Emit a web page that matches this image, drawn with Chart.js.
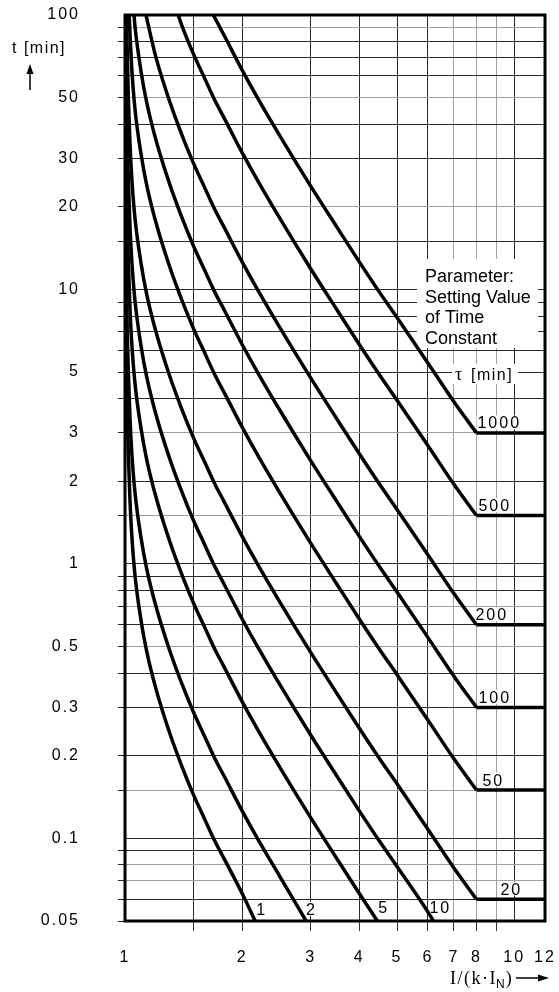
<!DOCTYPE html>
<html>
<head>
<meta charset="utf-8">
<script src="https://cdn.jsdelivr.net/npm/chart.js@4.4.1/dist/chart.umd.min.js"></script>
<style>
  html, body { margin: 0; padding: 0; background: #fff; }
  canvas { display: block; }
</style>
</head>
<body>
<canvas id="chart" width="559" height="992"></canvas>
<script>
// axis ticks
const xTicks = [1, 1.5, 2, 3, 4, 5, 6, 7, 8, 9, 10, 12];
const xTickLabels = [1, 2, 3, 4, 5, 6, 7, 8, 10, 12];
const yTicks = [0.05, 0.06, 0.07, 0.08, 0.09, 0.1, 0.15, 0.2, 0.3, 0.4, 0.5, 0.6, 0.7, 0.8, 0.9,
  1, 1.5, 2, 3, 4, 5, 6, 7, 8, 9, 10, 15, 20, 30, 40, 50, 60, 70, 80, 90, 100];
const yTickLabels = [0.05, 0.1, 0.2, 0.3, 0.5, 1, 2, 3, 5, 10, 20, 30, 50, 100];

// time constants (curve parameter)
const tauValues = [1, 2, 5, 10, 20, 50, 100, 200, 500, 1000];

// curves: I/(k*IN) and t [min]
const tau1X = [1.0003, 1.001, 1.002, 1.005, 1.01, 1.02, 1.03, 1.04, 1.06, 1.1, 1.137, 1.2, 1.3, 1.4, 1.5, 1.6, 1.7, 1.8, 2, 2.16];
const tau1T = [100, 35, 18, 8, 4.5, 2.5, 1.7, 1.3, 0.92, 0.62, 0.48, 0.352, 0.244, 0.183, 0.144, 0.118, 0.098, 0.084, 0.063, 0.05];

const tau2X = [1.0007, 1.001, 1.002, 1.005, 1.01, 1.02, 1.03, 1.04, 1.06, 1.1, 1.137, 1.2, 1.3, 1.4, 1.5, 1.6, 1.7, 1.8, 2, 2.2, 2.5, 2.92];
const tau2T = [100, 70, 36, 16, 9, 5, 3.4, 2.6, 1.84, 1.24, 0.96, 0.704, 0.488, 0.366, 0.288, 0.236, 0.196, 0.168, 0.126, 0.0988, 0.0726, 0.05];

const tau5X = [1.0018, 1.002, 1.005, 1.01, 1.02, 1.03, 1.04, 1.06, 1.1, 1.137, 1.2, 1.3, 1.4, 1.5, 1.6, 1.7, 1.8, 2, 2.2, 2.5, 3, 3.5, 4, 4.45];
const tau5T = [100, 90, 40, 22.5, 12.5, 8.5, 6.5, 4.6, 3.1, 2.4, 1.76, 1.22, 0.915, 0.72, 0.59, 0.49, 0.42, 0.315, 0.247, 0.1815, 0.119, 0.0845, 0.063, 0.05];

const tau10X = [1.004, 1.005, 1.01, 1.02, 1.03, 1.04, 1.06, 1.1, 1.137, 1.2, 1.3, 1.4, 1.5, 1.6, 1.7, 1.8, 2, 2.2, 2.5, 3, 3.5, 4, 4.5, 5, 6, 6.2];
const tau10T = [100, 80, 45, 25, 17, 13, 9.2, 6.2, 4.8, 3.52, 2.44, 1.83, 1.44, 1.18, 0.98, 0.84, 0.63, 0.494, 0.363, 0.238, 0.169, 0.126, 0.098, 0.079, 0.054, 0.05];

const tau20X = [1.009, 1.01, 1.02, 1.03, 1.04, 1.06, 1.1, 1.137, 1.2, 1.3, 1.4, 1.5, 1.6, 1.7, 1.8, 2, 2.2, 2.5, 3, 3.5, 4, 4.5, 5, 6, 7, 8];
const tau20T = [100, 90, 50, 34, 26, 18.4, 12.4, 9.6, 7.04, 4.88, 3.66, 2.88, 2.36, 1.96, 1.68, 1.26, 0.988, 0.726, 0.476, 0.338, 0.252, 0.196, 0.158, 0.108, 0.078, 0.06];

const tau50X = [1.025, 1.03, 1.04, 1.06, 1.1, 1.137, 1.2, 1.3, 1.4, 1.5, 1.6, 1.7, 1.8, 2, 2.2, 2.5, 3, 3.5, 4, 4.5, 5, 6, 7, 8];
const tau50T = [100, 85, 65, 46, 31, 24, 17.6, 12.2, 9.15, 7.2, 5.9, 4.9, 4.2, 3.15, 2.47, 1.815, 1.19, 0.845, 0.63, 0.49, 0.395, 0.27, 0.195, 0.15];

const tau100X = [1.055, 1.06, 1.1, 1.137, 1.2, 1.3, 1.4, 1.5, 1.6, 1.7, 1.8, 2, 2.2, 2.5, 3, 3.5, 4, 4.5, 5, 6, 7, 8];
const tau100T = [100, 92, 62, 48, 35.2, 24.4, 18.3, 14.4, 11.8, 9.8, 8.4, 6.3, 4.94, 3.63, 2.38, 1.69, 1.26, 0.98, 0.79, 0.54, 0.39, 0.3];

const tau200X = [1.132, 1.2, 1.3, 1.4, 1.5, 1.6, 1.7, 1.8, 2, 2.2, 2.5, 3, 3.5, 4, 4.5, 5, 6, 7, 8];
const tau200T = [100, 70.4, 48.8, 36.6, 28.8, 23.6, 19.6, 16.8, 12.6, 9.88, 7.26, 4.76, 3.38, 2.52, 1.96, 1.58, 1.08, 0.78, 0.6];

const tau500X = [1.37, 1.4, 1.5, 1.6, 1.7, 1.8, 2, 2.2, 2.5, 3, 3.5, 4, 4.5, 5, 6, 7, 8];
const tau500T = [100, 91.5, 72, 59, 49, 42, 31.5, 24.7, 18.15, 11.9, 8.45, 6.3, 4.9, 3.95, 2.7, 1.95, 1.5];

const tau1000X = [1.686, 1.8, 2, 2.2, 2.5, 3, 3.5, 4, 4.5, 5, 6, 7, 8];
const tau1000T = [100, 84, 63, 49.4, 36.3, 23.8, 16.9, 12.6, 9.8, 7.9, 5.4, 3.9, 3.0];

// flat part after I/(k*IN) = 8
const plateauX = [8, 12];
const plateauTau = [20, 50, 100, 200, 500, 1000];
const plateauT = [0.06, 0.15, 0.3, 0.6, 1.5, 3.0];

const noteLines = ["Parameter:", "Setting Value", "of Time", "Constant"];

const curves = [
  [tau1X, tau1T], [tau2X, tau2T], [tau5X, tau5T], [tau10X, tau10T], [tau20X, tau20T],
  [tau50X, tau50T], [tau100X, tau100T], [tau200X, tau200T], [tau500X, tau500T], [tau1000X, tau1000T]
];

const lineStyle = {
  showLine: true,
  borderColor: "#000",
  borderWidth: 3.5,
  pointRadius: 0,
  cubicInterpolationMode: "monotone",
  fill: false
};

const datasets = curves.map(([xs, ts], i) => ({
  label: "tau " + tauValues[i],
  data: xs.map((x, j) => ({ x: x, y: ts[j] })),
  ...lineStyle
}));
plateauTau.forEach((tau, i) => {
  datasets.push({
    label: "tau " + tau + " flat",
    data: plateauX.map(x => ({ x: x, y: plateauT[i] })),
    ...lineStyle,
    cubicInterpolationMode: "default",
    tension: 0
  });
});

const grayX = [7, 8, 9];
const grayY = [90, 50, 20, 3, 1.5, 0.7, 0.5, 0.15, 0.08, 0.07];
const sans = '"Liberation Sans", Arial, sans-serif';
const serif = '"Liberation Serif", "Times New Roman", serif';

// label offsets next to curve ends (px)
const labelDx = [1, 0, 1, -4, 24, 6, 2, -1, 2, 1];

const overlay = {
  id: "overlay",
  beforeDraw(chart) {
    chart.ctx.letterSpacing = "2px";
  },
  beforeDatasetsDraw(chart) {
    const ctx = chart.ctx;
    const xs = chart.scales.x, ys = chart.scales.y;
    ctx.save();
    // note box
    ctx.fillStyle = "#fff";
    ctx.fillRect(417, 259, 121, 89);
    ctx.fillRect(452, 364, 66, 20);
    ctx.fillStyle = "#000";
    ctx.letterSpacing = "0px";
    ctx.textBaseline = "alphabetic";
    ctx.textAlign = "left";
    ctx.font = "18px " + sans;
    noteLines.forEach((s, i) => ctx.fillText(s, 425, 282 + i * 20.5));
    ctx.font = "18px " + serif;
    ctx.fillText("\u03c4", 455, 380);
    ctx.font = "16px " + sans;
    ctx.letterSpacing = "1.5px";
    ctx.fillText("[min]", 471, 380);

    // curve labels
    ctx.font = "16px " + sans;
    ctx.letterSpacing = "2px";
    tauValues.forEach((tau, i) => {
      const txt = String(tau);
      const k = plateauTau.indexOf(tau);
      let px, base;
      if (k >= 0) {
        px = xs.getPixelForValue(plateauX[0]) + labelDx[i];
        base = ys.getPixelForValue(plateauT[k]) - 4.5;
      } else {
        const xsArr = curves[i][0];
        px = xs.getPixelForValue(xsArr[xsArr.length - 1]) + labelDx[i];
        base = ys.getPixelForValue(yTicks[0]) - (tau < 5 ? 6 : 8);
      }
      const w = ctx.measureText(txt).width;
      ctx.fillStyle = "#fff";
      ctx.fillRect(px - 1, base - 13, w, 14);
      ctx.fillStyle = "#000";
      ctx.fillText(txt, px, base);
    });
    ctx.restore();
  },
  afterDatasetsDraw(chart) {
    const ctx = chart.ctx;
    const a = chart.chartArea;
    ctx.save();
    ctx.strokeStyle = "#000";
    ctx.lineWidth = 3;
    ctx.strokeRect(a.left, a.top, a.right - a.left, a.bottom - a.top);
    ctx.restore();
  },
  afterDraw(chart) {
    const ctx = chart.ctx;
    ctx.save();
    ctx.fillStyle = "#000";
    ctx.strokeStyle = "#000";
    ctx.textBaseline = "alphabetic";
    ctx.textAlign = "left";
    // y title with arrow
    ctx.font = "16px " + sans;
    ctx.letterSpacing = "1.5px";
    ctx.fillText("t [min]", 12, 53);
    ctx.lineWidth = 1.5;
    ctx.beginPath();
    ctx.moveTo(30, 90);
    ctx.lineTo(30, 72);
    ctx.stroke();
    ctx.beginPath();
    ctx.moveTo(30, 64);
    ctx.lineTo(26.5, 74);
    ctx.lineTo(33.5, 74);
    ctx.closePath();
    ctx.fill();
    // x title with arrow
    ctx.letterSpacing = "1.5px";
    ctx.font = "18px " + serif;
    const main = "I/(k\u00b7I";
    ctx.fillText(main, 450, 984);
    let cx = 450 + ctx.measureText(main).width;
    ctx.font = "12px " + sans;
    ctx.letterSpacing = "0px";
    ctx.fillText("N", cx - 1, 988);
    cx += ctx.measureText("N").width;
    ctx.font = "18px " + serif;
    ctx.fillText(")", cx, 984);
    ctx.lineWidth = 1.5;
    ctx.beginPath();
    ctx.moveTo(516, 978);
    ctx.lineTo(540, 978);
    ctx.stroke();
    ctx.beginPath();
    ctx.moveTo(549, 978);
    ctx.lineTo(538, 974.5);
    ctx.lineTo(538, 981.5);
    ctx.closePath();
    ctx.fill();
    ctx.restore();
  }
};

const ctx = document.getElementById("chart").getContext("2d");

const chart = new Chart(ctx, {
  type: "scatter",
  data: { datasets: datasets },
  options: {
    responsive: false,
    animation: false,
    layout: { padding: { top: 15, right: 14, bottom: 0, left: 0 } },
    plugins: {
      legend: { display: false },
      tooltip: { enabled: false }
    },
    scales: {
      x: {
        type: "logarithmic",
        min: 1,
        max: 12,
        afterBuildTicks: s => { s.ticks = xTicks.map(v => ({ value: v })); },
        afterFit: s => { s.height = 71; s.paddingLeft = 0; s.paddingRight = 0; },
        border: { display: false },
        grid: {
          color: c => grayX.includes(c.tick && c.tick.value) ? "#a0a0a0" : "#2a2a2a",
          lineWidth: 1,
          tickLength: 10,
          tickColor: c => {
            const v = c.tick && c.tick.value;
            return (v > 1 && v < 10) ? "#333" : "rgba(0,0,0,0)";
          }
        },
        ticks: {
          autoSkip: false,
          maxRotation: 0,
          minRotation: 0,
          padding: 17,
          color: "#000",
          font: { family: sans, size: 16 },
          callback: v => xTickLabels.includes(v) ? String(v) : ""
        }
      },
      y: {
        type: "logarithmic",
        min: 0.05,
        max: 100,
        afterBuildTicks: s => { s.ticks = yTicks.map(v => ({ value: v })); },
        afterFit: s => { s.width = 125; s.paddingTop = 0; s.paddingBottom = 0; },
        border: { display: false },
        grid: {
          color: c => grayY.includes(c.tick && c.tick.value) ? "#a0a0a0" : "#2a2a2a",
          lineWidth: 1,
          tickLength: 7,
          tickColor: c => {
            const v = c.tick && c.tick.value;
            return [0.1, 1, 10, 100].includes(v) ? "rgba(0,0,0,0)" : "#222";
          }
        },
        ticks: {
          autoSkip: false,
          padding: 38,
          color: "#000",
          font: { family: sans, size: 16 },
          callback: v => yTickLabels.includes(v) ? String(v) : ""
        }
      }
    }
  },
  plugins: [overlay]
});
</script>
</body>
</html>
